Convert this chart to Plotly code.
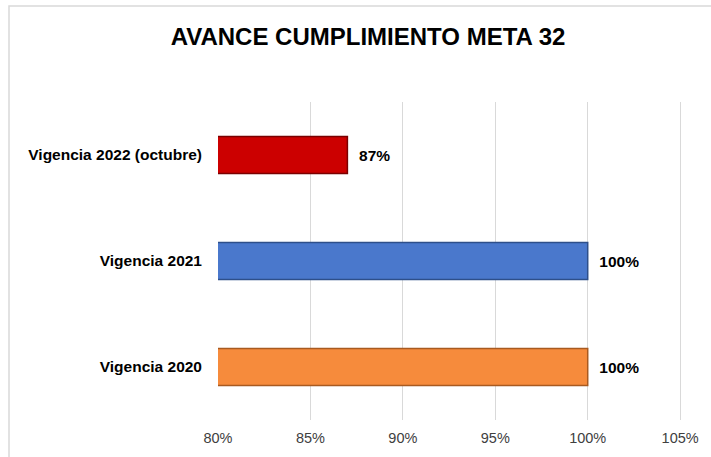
import plotly.graph_objects as go

# Datos del gráfico
categorias = ["Vigencia 2020", "Vigencia 2021", "Vigencia 2022 (octubre)"]
avance = [1.00, 1.00, 0.87]
colores = ["#F68B3C", "#4A78CC", "#CC0000"]
bordes = ["#A85A20", "#2E4F8A", "#7A0000"]
ticks_x = [0.80, 0.85, 0.90, 0.95, 1.00, 1.05]

fig = go.Figure()
fig.add_trace(go.Bar(
    y=categorias,
    x=avance,
    orientation="h",
    base=0,
    width=0.35,
    marker=dict(color=colores, line=dict(color=bordes, width=1.5)),
    texttemplate="\u00a0\u00a0%{x:.0%}",
    textposition="outside",
    textfont=dict(family="Arial, Liberation Sans", size=15.5, color="#000000", weight="bold"),
    cliponaxis=False,
    hoverinfo="skip",
))

fig.update_layout(
    width=711,
    height=457,
    paper_bgcolor="white",
    plot_bgcolor="white",
    margin=dict(l=218, r=29, t=102, b=37),
    showlegend=False,
    title=dict(
        text="<b>AVANCE CUMPLIMIENTO META 32</b>",
        x=368 / 711,
        xanchor="center",
        y=1 - 37 / 457,
        yanchor="middle",
        font=dict(family="Arial, Liberation Sans", size=24, color="#000000"),
    ),
    xaxis=dict(
        range=[0.80, 1.051],
        tickvals=ticks_x,
        tickformat=".0%",
        showgrid=True,
        gridcolor="#D9D9D9",
        gridwidth=1,
        zeroline=False,
        showline=False,
        automargin=False,
        ticklabelstandoff=7,
        tickfont=dict(family="Arial, Liberation Sans", size=14.5, color="#404040"),
    ),
    yaxis=dict(
        showgrid=False,
        showline=False,
        automargin=False,
        ticklabelstandoff=15,
        tickfont=dict(family="Arial, Liberation Sans", size=15.5, color="#000000", weight="bold"),
    ),
    shapes=[dict(
        type="rect", xref="paper", yref="paper",
        x0=(9 - 218) / 464, x1=1.2, y0=-0.3, y1=(420 - 6) / 318,
        line=dict(color="#D9D9D9", width=1.5), fillcolor="rgba(0,0,0,0)", layer="below",
    )],
)

fig.write_html("out.html", config={"displayModeBar": False},
               post_script="document.body.style.margin='0';")
